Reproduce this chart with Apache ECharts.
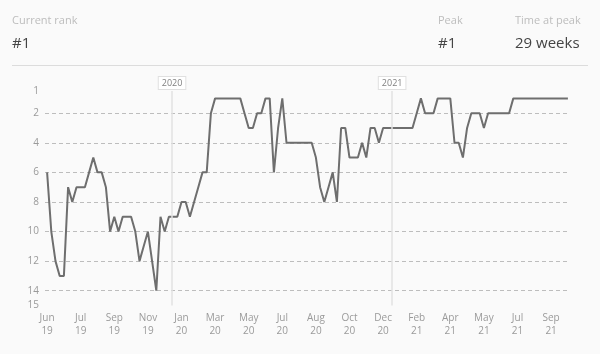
<!DOCTYPE html>
<html>
<head>
<meta charset="utf-8">
<script src="https://cdn.jsdelivr.net/npm/echarts@6/dist/echarts.min.js"></script>
<style>
  html, body { margin: 0; padding: 0; background: #fafafa; }
  #chart { width: 600px; height: 354px; }
</style>
</head>
<body>
<div id="chart"></div>
<script>
// Weekly chart rank (index = week number since first chart week)
const ranks = [
  6, 10, 12, 13, 13, 7, 8, 7, 7, 7,
  6, 5, 6, 6, 7, 10, 9, 10, 9, 9,
  9, 10, 12, 11, 10, 12, 14, 9, 10, 9,
  9, 9, 8, 8, 9, 8, 7, 6, 6, 2,
  1, 1, 1, 1, 1, 1, 1, 2, 3, 3,
  2, 2, 1, 1, 6, 3, 1, 4, 4, 4,
  4, 4, 4, 4, 5, 7, 8, 7, 6, 8,
  3, 3, 5, 5, 5, 4, 5, 3, 3, 4,
  3, 3, 3, 3, 3, 3, 3, 3, 2, 1,
  2, 2, 2, 1, 1, 1, 1, 4, 4, 5,
  3, 2, 2, 2, 3, 2, 2, 2, 2, 2,
  2, 1, 1, 1, 1, 1, 1, 1, 1, 1,
  1, 1, 1, 1, 1
];
// x tick labels, one every 8 weeks starting at week 0
const xTickWeeks = [0, 8, 16, 24, 32, 40, 48, 56, 64, 72, 80, 88, 96, 104, 112, 120];
const xTickLabels = ['Jun\n19', 'Jul\n19', 'Sep\n19', 'Nov\n19', 'Jan\n20', 'Mar\n20', 'May\n20', 'Jul\n20',
                     'Aug\n20', 'Oct\n20', 'Dec\n20', 'Feb\n21', 'Apr\n21', 'May\n21', 'Jul\n21', 'Sep\n21'];
const yTickValues = [1, 2, 4, 6, 8, 10, 12, 14, 15];
const yGridValues = [2, 4, 6, 8, 10, 12, 14];
const yearMarkers = [
  { label: '2020', week: 29.75 },
  { label: '2021', week: 82.15 }
];
const stats = [
  { title: 'Current rank', value: '#1' },
  { title: 'Peak', value: '#1' },
  { title: 'Time at peak', value: '29 weeks' }
];

const statLefts = [12, 438, 515];
const FONT = '"Open Sans", "Noto Sans", sans-serif';

const chart = echarts.init(document.getElementById('chart'), null, { renderer: 'canvas' });

const option = {
  backgroundColor: '#fafafa',
  animation: false,
  textStyle: { fontFamily: FONT },
  title: stats.map((s, i) => ({
    text: s.title,
    subtext: s.value,
    left: statLefts[i],
    top: 15,
    itemGap: 10,
    padding: 0,
    textStyle: { fontSize: 11, fontWeight: 'normal', color: '#bdbdbd', fontFamily: FONT },
    subtextStyle: { fontSize: 15, color: '#444', fontFamily: FONT }
  })),
  graphic: [{
    type: 'line',
    shape: { x1: 12, y1: 65.5, x2: 588, y2: 65.5 },
    style: { stroke: '#dcdcdc', lineWidth: 1 }
  }],
  grid: { left: 45, right: 30, top: 91, bottom: 48.5, containLabel: false },
  xAxis: {
    type: 'value',
    min: -0.5,
    max: 124.5,
    axisLine: { show: false },
    axisTick: { show: false },
    splitLine: { show: false },
    axisLabel: {
      customValues: xTickWeeks,
      formatter: v => xTickLabels[xTickWeeks.indexOf(Math.round(v))] || '',
      color: '#9a9a9a',
      fontSize: 10,
      lineHeight: 13,
      margin: 6,
      fontFamily: FONT
    }
  },
  yAxis: {
    type: 'value',
    inverse: true,
    min: 0.5,
    max: 15,
    axisLine: { show: false },
    axisTick: { show: false, customValues: yGridValues },
    splitLine: {
      show: true,
      lineStyle: { color: '#bdbdbd', type: [4, 3], width: 1 }
    },
    axisLabel: {
      customValues: yTickValues,
      formatter: v => (v === 1 ? '{top|1}' : String(v)),
      rich: { top: { padding: [0, 0, 14, 0], color: '#9a9a9a', fontSize: 10 } },
      color: '#9a9a9a',
      fontSize: 10,
      margin: 6,
      fontFamily: FONT
    }
  },
  series: [{
    type: 'line',
    data: ranks.map((r, i) => [i, r]),
    symbol: 'none',
    lineStyle: { color: '#6e6e6e', width: 2 },
    markLine: {
      silent: true,
      symbol: 'none',
      lineStyle: { color: '#e2e2e2', type: 'solid', width: 1.5 },
      label: {
        show: true,
        position: 'start',
        formatter: p => p.name,
        color: '#808080',
        fontSize: 9,
        backgroundColor: '#ffffff',
        borderColor: '#e0e0e0',
        borderWidth: 1,
        padding: [2, 3, 1, 3],
        distance: 2
      },
      data: yearMarkers.map(m => ({ name: m.label, xAxis: m.week }))
    }
  }]
};

chart.setOption(option);
</script>
</body>
</html>
